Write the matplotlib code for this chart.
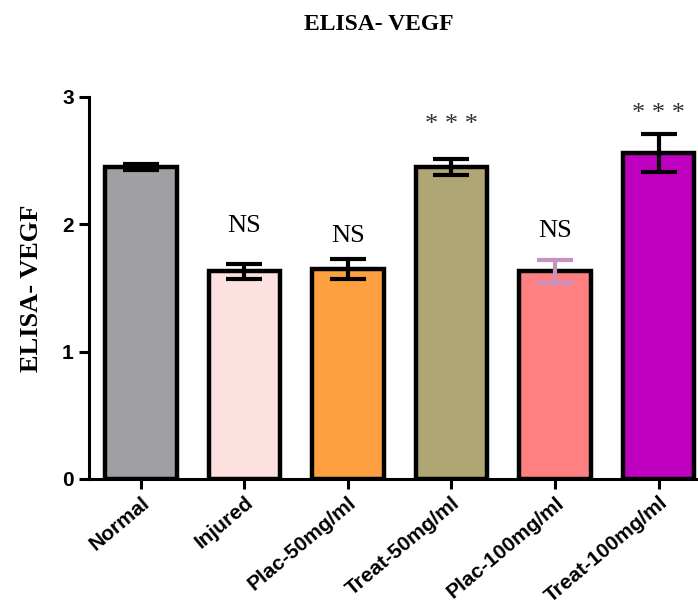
import numpy as np
import matplotlib
matplotlib.use("Agg")
import matplotlib.pyplot as plt

groups = ["Normal", "Injured", "Plac-50mg/ml", "Treat-50mg/ml", "Plac-100mg/ml", "Treat-100mg/ml"]
means = [2.45, 1.63, 1.65, 2.45, 1.63, 2.56]
errors = [0.02, 0.06, 0.08, 0.06, 0.09, 0.15]
marks = ["", "NS", "NS", "***", "NS", "***"]
mark_y = [None, 1.99, 1.91, 2.78, 1.95, 2.87]
bar_colors = ["#a09fa4", "#fde0e0", "#ffa040", "#b0a673", "#ff8080", "#c000c0"]
err_colors = ["black", "black", "black", "black", "#c792c0", "black"]

fig = plt.figure(figsize=(6.98, 6.13), dpi=100)
ax = fig.add_axes([0.1275, 0.2186, 0.8725, 0.6232])

x = np.arange(len(groups))
ax.bar(x, means, width=0.69, color=bar_colors, edgecolor="black", linewidth=3.2, zorder=2)
for xi, m, e, c in zip(x, means, errors, err_colors):
    ax.errorbar(xi, m, yerr=e, fmt="none", ecolor=c, elinewidth=3,
                capsize=13, capthick=3, zorder=3)

# significance marks above the bars
for xi, t, ty in zip(x, marks, mark_y):
    if not t:
        continue
    if t == "***":
        ax.text(xi, ty, "* * *", ha="center", va="center", fontsize=19,
                family="Liberation Serif", color="#333333")
    else:
        ax.text(xi, ty, t, ha="center", va="center", fontsize=19,
                family="Liberation Serif")

ax.set_xlim(-0.5, 5.38)
ax.set_ylim(0, 3)
ax.set_yticks([0, 1, 2, 3])
ax.set_xticks(x)
ax.set_xticklabels(groups, rotation=40, ha="right", rotation_mode="anchor",
                   fontsize=15, fontweight="bold", family="Liberation Sans")
for lbl in ax.get_yticklabels():
    lbl.set_fontsize(15)
    lbl.set_fontweight("bold")
    lbl.set_family("Liberation Sans")

for s in ["top", "right"]:
    ax.spines[s].set_visible(False)
for s in ["left", "bottom"]:
    ax.spines[s].set_linewidth(2.2)
ax.tick_params(axis="both", width=2.2, length=7, pad=4)
ax.tick_params(axis="x", pad=3)

ax.set_ylabel("ELISA- VEGF", fontsize=19, fontweight="bold", family="Liberation Serif", labelpad=14)
fig.text(0.543, 0.96, "ELISA- VEGF", ha="center", va="center", fontsize=17,
         fontweight="bold", family="Liberation Serif")

fig.savefig("out.png", dpi=100)
